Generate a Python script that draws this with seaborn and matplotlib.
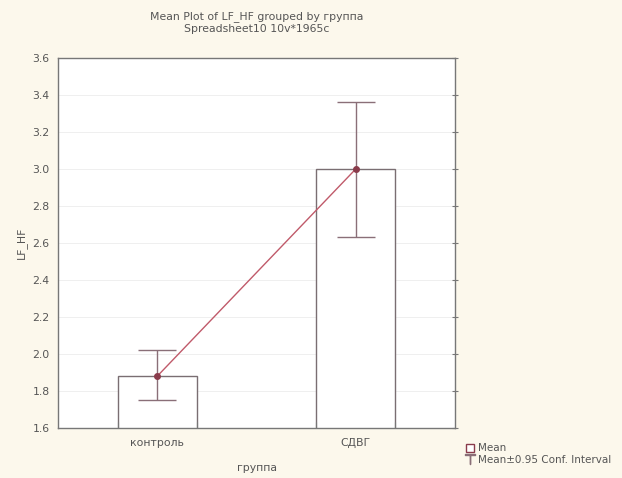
import matplotlib
matplotlib.use("Agg")
import matplotlib.pyplot as plt
import seaborn as sns
import pandas as pd
import numpy as np
from matplotlib.lines import Line2D

groups = ["контроль", "СДВГ"]
means = [1.88, 3.00]
ci_low = [1.75, 2.63]
ci_high = [2.02, 3.36]
yticks = [1.6, 1.8, 2.0, 2.2, 2.4, 2.6, 2.8, 3.0, 3.2, 3.4, 3.6]

sns.set_style("white")
plt.rcParams['font.family'] = ['DejaVu Sans']

bg = "#fcf8ec"
txt = "#555555"
fs = 7.8
fig = plt.figure(figsize=(6.22, 4.78), dpi=100, facecolor=bg)
ax = fig.add_axes([58/622, 50/478, 397/622, 370/478])
ax.set_facecolor("white")

df = pd.DataFrame({"группа": groups, "LF_HF": means})
sns.barplot(data=df, x="группа", y="LF_HF", ax=ax, color="white",
            edgecolor="#7a6e72", linewidth=1.0, width=0.4, errorbar=None)

x = np.arange(len(groups))
lo = np.array(means) - np.array(ci_low)
hi = np.array(ci_high) - np.array(means)
ax.errorbar(x, means, yerr=[lo, hi], fmt="none", ecolor="#8a6f78",
            elinewidth=1.0, capsize=14, capthick=1.0, zorder=3)
ax.plot(x, means, color="#c05a6a", lw=1.0, marker="o", ms=4,
        mfc="#8a3b4b", mec="#8a3b4b", zorder=4)

ax.set_xlim(-0.5, 1.5)
ax.set_ylim(1.6, 3.6)
ax.set_yticks(yticks)
ax.set_yticklabels([f"{t:.1f}" for t in yticks], fontsize=fs, color=txt)
ax.tick_params(axis="x", labelsize=fs, colors=txt, length=0, pad=7)
ax.tick_params(axis="y", length=4, direction="inout", color="#777777",
               right=True, pad=4)
for yv in yticks[1:-1]:
    ax.axhline(yv, color="#ececec", lw=0.6, zorder=0)
ax.set_xlabel("группа", fontsize=fs, color=txt, labelpad=11)
ax.set_ylabel("LF_HF", fontsize=fs, color=txt, labelpad=4)
for s in ax.spines.values():
    s.set_color("#777777")
    s.set_linewidth(1.0)
for xv in [-0.2, 0.2, 0.8, 1.2]:
    ax.plot([xv, xv], [1.6, 1.63], color="#777777", lw=0.8, clip_on=False)

cx = (58 + 455) / 2 / 622
fig.text(cx, 1 - 17/478, "Mean Plot of LF_HF grouped by группа",
         ha="center", va="center", fontsize=fs, color=txt)
fig.text(cx, 1 - 29/478, "Spreadsheet10 10v*1965c",
         ha="center", va="center", fontsize=fs, color=txt)

handles = [
    Line2D([0], [0], marker="s", color="none", mfc="white", mec="#8a3b4b", ms=6),
    Line2D([0], [0], marker="$\\top$", color="#8a6f78", ls="none", ms=7),
]
fig.legend(handles, ["Mean", "Mean±0.95 Conf. Interval"], loc="lower left",
           bbox_to_anchor=(461/622, 8/478), frameon=False, fontsize=7.5,
           handlelength=0.8, handletextpad=0.3, labelspacing=0.15,
           labelcolor=txt, borderpad=0)

fig.savefig("out.png", dpi=100, facecolor=bg)
